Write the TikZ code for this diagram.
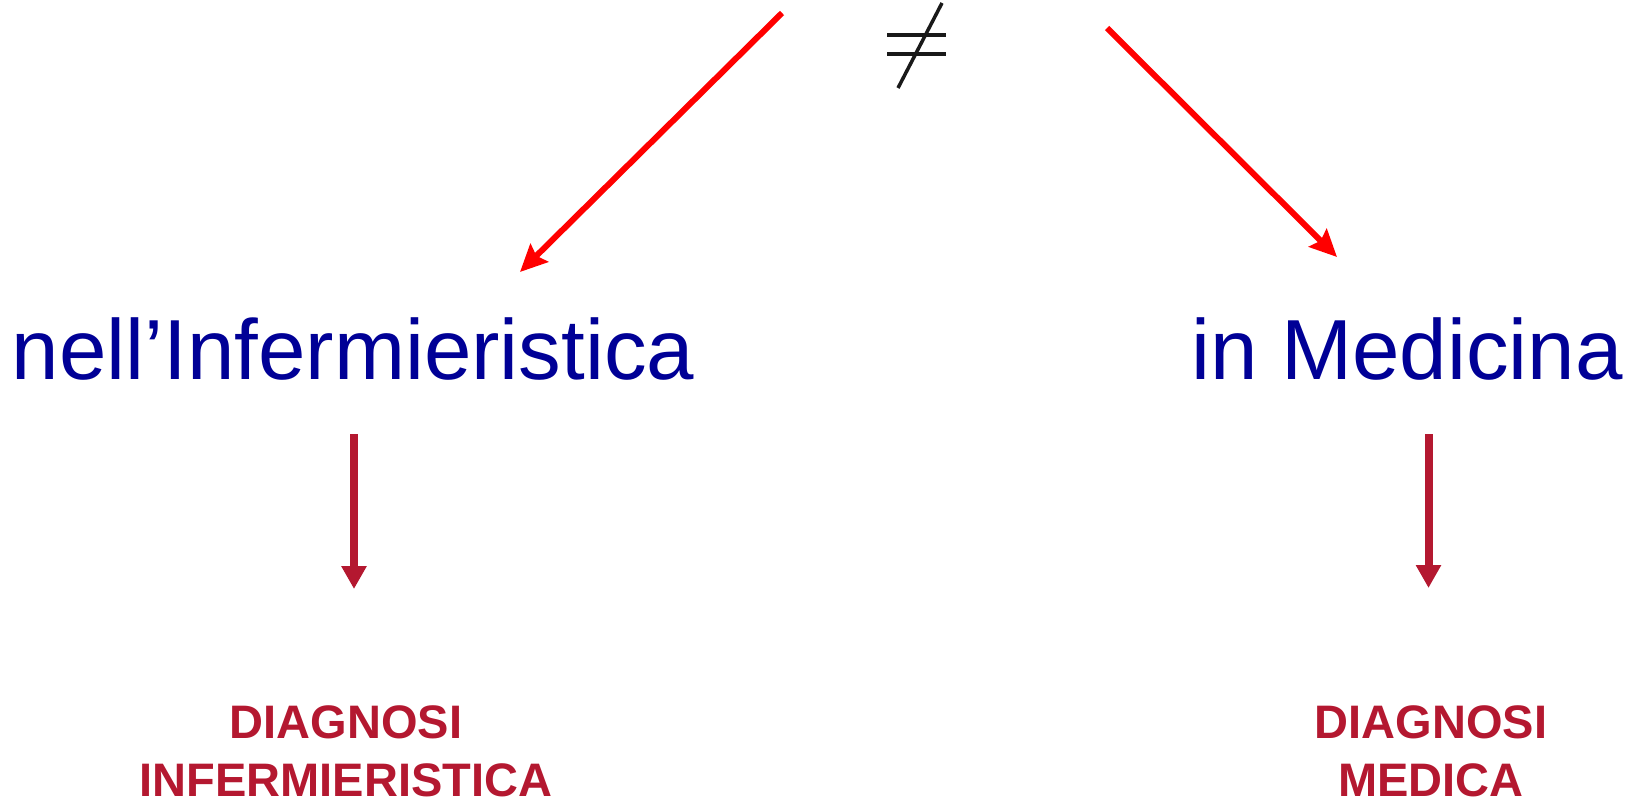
\documentclass[tikz,border=0pt]{standalone}
\usepackage{fontspec}
\setmainfont{Liberation Sans}
\usetikzlibrary{arrows.meta}
\definecolor{navy}{RGB}{0,0,150}
\definecolor{crimson}{RGB}{180,24,48}
\definecolor{pured}{RGB}{255,0,0}
\tikzset{
  bigtext/.style={font=\fontsize{85.3}{100}\selectfont, text=navy, inner sep=0pt, anchor=base},
  dtext/.style={font=\bfseries\fontsize{47}{58}\selectfont, text=crimson, inner sep=0pt, align=center, anchor=north},
  redarrow/.style={draw=pured, line width=6pt, -{Stealth[length=27pt,width=25pt,inset=4pt]}},
  darrow/.style={draw=crimson, line width=8pt, -{Triangle[length=23pt,width=24pt]}},
  neqline/.style={draw=black!90, line width=4pt}
}
\begin{document}
\begin{tikzpicture}[x=1pt,y=-1pt]
\useasboundingbox (0,0) rectangle (1629,797);
% not-equal sign
\coordinate (nb1) at (887,35.3);
\coordinate (nb2) at (946,35.3);
\coordinate (nb3) at (887,53.7);
\coordinate (nb4) at (946,53.7);
\coordinate (ns1) at (898,88);
\coordinate (ns2) at (942,3);
\draw[neqline] (nb1) -- (nb2);
\draw[neqline] (nb3) -- (nb4);
\draw[neqline, line width=3.5pt] (ns1) -- (ns2);
% texts
\node[bigtext] (inf) at (353,379) {nell’Infermieristica};
\node[bigtext] (med) at (1407,379) {in Medicina};
\node[dtext] (dinf) at (346,705) {DIAGNOSI\\INFERMIERISTICA};
\node[dtext] (dmed) at (1431,705) {DIAGNOSI\\MEDICA};
% red arrows
\coordinate (sL) at (782,13);
\coordinate (tL) at (520,272);
\coordinate (sR) at (1107,28);
\coordinate (tR) at (1337,257);
\draw[redarrow] (sL) -- (tL);
\draw[redarrow] (sR) -- (tR);
% dark red arrows
\coordinate (dL1) at (354,434);
\coordinate (dL2) at (354,589);
\coordinate (dR1) at (1428.5,434);
\coordinate (dR2) at (1428.5,588);
\draw[darrow] (dL1) -- (dL2);
\draw[darrow] (dR1) -- (dR2);
\end{tikzpicture}
\end{document}
